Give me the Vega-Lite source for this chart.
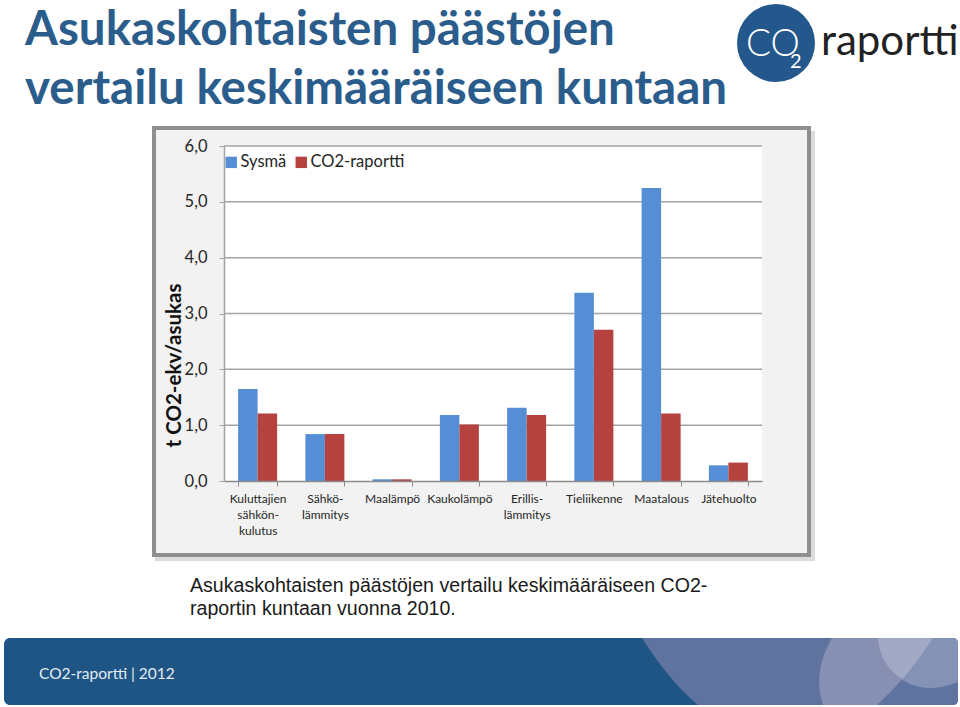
{
"$schema":"https://vega.github.io/schema/vega-lite/v6.json",
"width":538,"height":335,"autosize":"none",
"padding":{"left":224,"top":146,"right":198,"bottom":226},
"background":"white",
"view":{"stroke":null},
"title":{"text":["Asukaskohtaisten päästöjen","vertailu keskimääräiseen kuntaan"],"anchor":"start","frame":"group","dx":-199,"offset":-109,"font":"Lato","fontSize":47.5,"fontWeight":"bold","color":"#2a5c8c","lineHeight":59},
"data":{"values":[
{"kategoria":"Kuluttajien|sähkön-|kulutus","sarja":"Sysmä","arvo":1.65},
{"kategoria":"Kuluttajien|sähkön-|kulutus","sarja":"CO2-raportti","arvo":1.21},
{"kategoria":"Sähkö-|lämmitys","sarja":"Sysmä","arvo":0.84},
{"kategoria":"Sähkö-|lämmitys","sarja":"CO2-raportti","arvo":0.84},
{"kategoria":"Maalämpö","sarja":"Sysmä","arvo":0.03},
{"kategoria":"Maalämpö","sarja":"CO2-raportti","arvo":0.03},
{"kategoria":"Kaukolämpö","sarja":"Sysmä","arvo":1.18},
{"kategoria":"Kaukolämpö","sarja":"CO2-raportti","arvo":1.01},
{"kategoria":"Erillis-|lämmitys","sarja":"Sysmä","arvo":1.31},
{"kategoria":"Erillis-|lämmitys","sarja":"CO2-raportti","arvo":1.18},
{"kategoria":"Tieliikenne","sarja":"Sysmä","arvo":3.37},
{"kategoria":"Tieliikenne","sarja":"CO2-raportti","arvo":2.71},
{"kategoria":"Maatalous","sarja":"Sysmä","arvo":5.25},
{"kategoria":"Maatalous","sarja":"CO2-raportti","arvo":1.21},
{"kategoria":"Jätehuolto","sarja":"Sysmä","arvo":0.28},
{"kategoria":"Jätehuolto","sarja":"CO2-raportti","arvo":0.33}
]},
"layer":[
{"data":{"values":[{}]},"mark":{"type":"rect","fill":"#dcdcdc"},"encoding":{"x":{"value":-69},"x2":{"value":591},"y":{"value":-15},"y2":{"value":415}}},
{"data":{"values":[{}]},"mark":{"type":"rect","fill":"#f2f2f2","stroke":"#8f8f8f","strokeWidth":4},"encoding":{"x":{"value":-70},"x2":{"value":585},"y":{"value":-18},"y2":{"value":409}}},
{"data":{"values":[{}]},"mark":{"type":"rect","fill":"white"},"encoding":{"x":{"value":0},"x2":{"value":538},"y":{"value":0},"y2":{"value":335}}},
{"data":{"values":[{}]},"mark":{"type":"rect","fill":"#1f5585","cornerRadius":6},"encoding":{"x":{"value":-220},"x2":{"value":734},"y":{"value":492},"y2":{"value":559}}},
{"data":{"values":[{}]},"mark":{"type":"point","filled":true,"opacity":1,"fill":"#5f739f","stroke":null,"size":4,"shape":"M642,638 Q670,682 698,705 L953,705 Q958,705 958,700 L958,643 Q958,638 953,638 Z"},"encoding":{"x":{"value":-224},"y":{"value":-146}}},
{"data":{"values":[{}]},"mark":{"type":"point","filled":true,"opacity":1,"fill":"#8790b3","stroke":null,"size":4,"shape":"M832,638 Q812,672 823,705 L877,705 Q908,677 933,638 Z"},"encoding":{"x":{"value":-224},"y":{"value":-146}}},
{"data":{"values":[{}]},"mark":{"type":"point","filled":true,"opacity":0.23,"fill":"white","stroke":null,"size":4,"shape":"M878,638 Q880,665 903,680 Q925,695 958,682 L958,643 Q958,638 953,638 Z"},"encoding":{"x":{"value":-224},"y":{"value":-146}}},
{"data":{"values":[{}]},"mark":{"type":"circle","fill":"#24588c","opacity":1,"size":6084},"encoding":{"x":{"value":552},"y":{"value":-103}}},
{"data":{"values":[{}]},"mark":{"type":"text","text":"CO","font":"Lato","fontWeight":300,"fontSize":37,"fill":"white","align":"left","baseline":"alphabetic"},"encoding":{"x":{"value":522},"y":{"value":-90}}},
{"data":{"values":[{}]},"mark":{"type":"text","text":"2","font":"Lato","fontSize":20,"fill":"white","align":"left","baseline":"alphabetic"},"encoding":{"x":{"value":566},"y":{"value":-78}}},
{"data":{"values":[{}]},"mark":{"type":"text","text":"raportti","font":"Lato","fontSize":42,"fill":"#222222","align":"left","baseline":"alphabetic"},"encoding":{"x":{"value":597},"y":{"value":-91}}},
{"data":{"values":[{}]},"mark":{"type":"text","text":["Asukaskohtaisten päästöjen vertailu keskimääräiseen CO2-","raportin kuntaan vuonna 2010."],"font":"Liberation Sans","fontSize":19.6,"lineHeight":23,"fill":"#1a1a1a","align":"left","baseline":"alphabetic"},"encoding":{"x":{"value":-34},"y":{"value":446}}},
{"data":{"values":[{}]},"mark":{"type":"text","text":"CO2-raportti | 2012","font":"Lato","fontSize":15.5,"fill":"#e4ecf3","align":"left","baseline":"alphabetic"},"encoding":{"x":{"value":-185},"y":{"value":533}}},
{"data":{"values":[{"g":1},{"g":2},{"g":3},{"g":4},{"g":5},{"g":6}]},"mark":{"type":"rule","color":"#a3a3a3","strokeWidth":1.5},"encoding":{"y":{"field":"g","type":"quantitative"}}},
{"mark":{"type":"bar"},
"encoding":{
"x":{"field":"kategoria","type":"nominal","sort":null,"scale":{"paddingInner":0.42,"paddingOuter":0.21},
"axis":{"title":null,"labelAngle":0,"labelFont":"Lato","labelFontSize":12,"labelColor":"#262626","labelExpr":"split(datum.label,'|')","labelLineHeight":16,"labelPadding":7,"labelBaseline":"top","tickBand":"extent","tickSize":5,"tickColor":"#8c8c8c","domainColor":"#8c8c8c","domainWidth":1.5,"zindex":1,"labelLimit":200}},
"xOffset":{"field":"sarja","type":"nominal","sort":["Sysmä","CO2-raportti"],"scale":{"paddingInner":0,"paddingOuter":0}},
"y":{"field":"arvo","type":"quantitative","scale":{"domain":[0,6],"nice":false},
"axis":{"title":"t CO2-ekv/asukas","titleFont":"Lato","titleFontSize":20.5,"titleFontWeight":"bold","titleColor":"#111111","titleX":-40,"titleY":219,"values":[0,1,2,3,4,5,6],"labelExpr":"replace(format(datum.value,'.1f'),'.',',')","labelFont":"Lato","labelFontSize":16.5,"labelColor":"#262626","labelPadding":12,"tickSize":5,"tickColor":"#a3a3a3","domainColor":"#a3a3a3","domainWidth":1.5,"grid":false,"zindex":1}},
"color":{"field":"sarja","type":"nominal","sort":["Sysmä","CO2-raportti"],"scale":{"domain":["Sysmä","CO2-raportti"],"range":["#558ed5","#b5423f"]},
"legend":{"title":null,"orient":"none","legendX":-1,"legendY":8,"direction":"horizontal","symbolType":"square","symbolSize":130,"symbolOpacity":1,"labelFont":"Lato","labelFontSize":16.5,"labelColor":"#262626","labelOffset":1,"columnPadding":6}}
}}
]
}
